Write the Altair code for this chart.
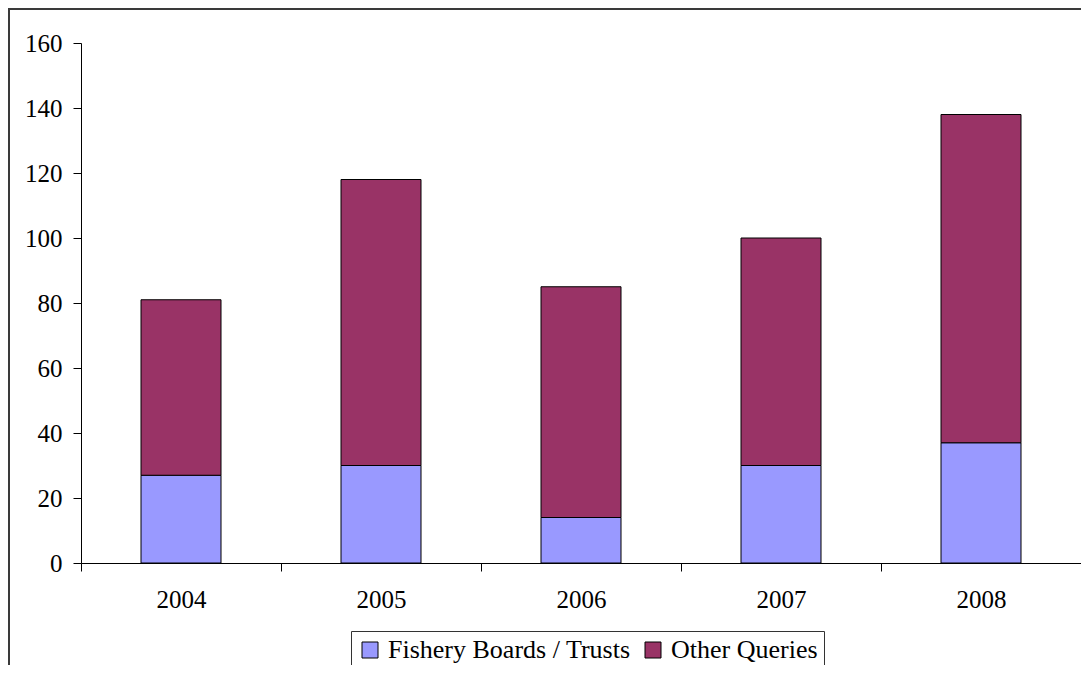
import altair as alt
import pandas as pd

years = ["2004", "2005", "2006", "2007", "2008"]
fishery = [27, 30, 14, 30, 37]
other = [54, 88, 71, 70, 101]
series = ["Fishery Boards / Trusts", "Other Queries"]
colors = ["#9999FF", "#993366"]

rows = []
for i, y in enumerate(years):
    rows.append({"year": y, "series": series[0], "value": fishery[i], "ord": 0})
    rows.append({"year": y, "series": series[1], "value": other[i], "ord": 1})
df = pd.DataFrame(rows)

FONT = "Liberation Serif"
PW, PH = 1000, 520

bars = alt.Chart(df).mark_bar(stroke="black", strokeWidth=1,
                              width=alt.RelativeBandSize(0.4)).encode(
    x=alt.X("year:N", sort=years,
            scale=alt.Scale(paddingInner=0, paddingOuter=0),
            axis=alt.Axis(title=None, labelAngle=0, tickBand="extent", grid=False,
                          tickSize=8, labelPadding=16, domainColor="black",
                          tickColor="black", labelFont=FONT, labelFontSize=25,
                          labelColor="black", domainWidth=1, tickWidth=1)),
    y=alt.Y("value:Q", stack="zero",
            scale=alt.Scale(domain=[0, 160], nice=False),
            axis=alt.Axis(title=None, values=list(range(0, 161, 20)), grid=False,
                          tickSize=8, labelPadding=11, domainColor="black",
                          tickColor="black", labelFont=FONT, labelFontSize=25,
                          labelColor="black", domainWidth=1, tickWidth=1)),
    color=alt.Color("series:N", scale=alt.Scale(domain=series, range=colors),
                    legend=alt.Legend(title=None, orient="none", direction="horizontal",
                                      legendX=270, legendY=588,
                                      strokeColor="#333333", padding=6,
                                      symbolType="square", symbolSize=256,
                                      symbolStrokeColor="black", symbolStrokeWidth=1,
                                      symbolOpacity=1, labelFont=FONT, labelFontSize=26,
                                      labelColor="black", labelOffset=5,
                                      columnPadding=9, labelLimit=400)),
    order=alt.Order("ord:Q"),
)

# white cover over the faint view outline along the top of the plot
cover = alt.Chart(df).mark_rule(stroke="white", strokeWidth=3).encode(
    x=alt.value(1), x2=alt.value(PW + 5), y=alt.value(0)
)
frame_top = alt.Chart(df).mark_rule(stroke="#3a3a3a", strokeWidth=1.5).encode(
    x=alt.value(-73), x2=alt.value(1200), y=alt.value(-34.25)
)
frame_left = alt.Chart(df).mark_rule(stroke="#3a3a3a", strokeWidth=1.5).encode(
    x=alt.value(-72.25), y=alt.value(-35), y2=alt.value(800)
)

chart = alt.layer(cover, frame_top, frame_left, bars).properties(
    width=PW, height=PH,
    autosize=alt.AutoSizeParams(type="none"),
    padding={"left": 73, "top": 35, "right": 0, "bottom": 102},
).configure_view(stroke=None, strokeWidth=0).configure_axis(grid=False).configure(background="white")

chart.save("out.html", embed_options={"renderer": "svg", "actions": False})
